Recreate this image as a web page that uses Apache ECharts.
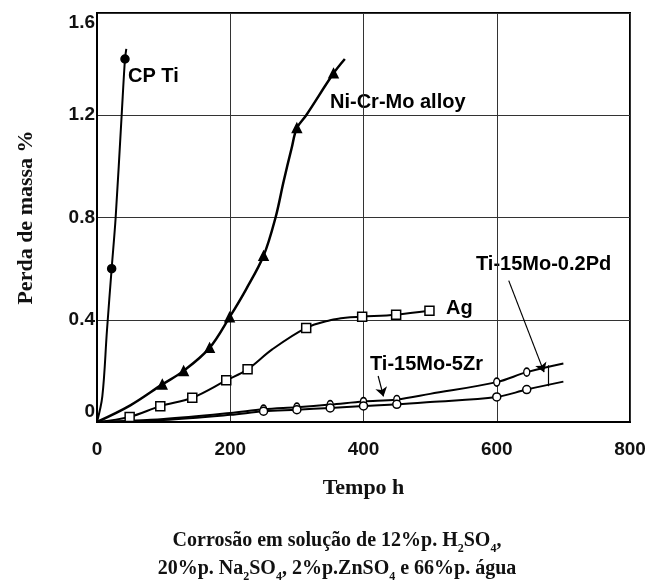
<!DOCTYPE html>
<html>
<head>
<meta charset="utf-8">
<script src="https://cdn.jsdelivr.net/npm/echarts@6/dist/echarts.min.js"></script>
<style>
  html, body { margin: 0; padding: 0; background: #fff; }
  #chart { width: 650px; height: 580px; }
</style>
</head>
<body>
<div id="chart"></div>
<script>
  // [hours, mass loss %]
  var cpTi = [[0, 0], [8, 0.1], [15, 0.36], [22, 0.6], [28, 0.8], [37, 1.2], [42, 1.42], [44, 1.46]];
  var cpTiMarks = [22, 42];

  var niCrMo = [[0, 0], [50, 0.065], [98, 0.147], [130, 0.2], [169, 0.29], [199, 0.41], [224, 0.52],
    [250, 0.65], [268, 0.8], [280, 0.94], [292, 1.07], [300, 1.15], [314, 1.2], [355, 1.364], [372, 1.42]];
  var niCrMoMarks = [98, 130, 169, 199, 250, 300, 355];

  var ag = [[0, 0], [49, 0.02], [95, 0.062], [143, 0.095], [194, 0.163], [226, 0.206], [263, 0.284],
    [314, 0.368], [350, 0.398], [373, 0.408], [398, 0.412], [449, 0.42], [499, 0.435]];
  var agMarks = [49, 95, 143, 194, 226, 314, 398, 449, 499];

  var tiPd = [[0, 0], [100, 0.012], [200, 0.035], [250, 0.05], [300, 0.058], [350, 0.068], [400, 0.08],
    [450, 0.088], [500, 0.11], [600, 0.156], [645, 0.195], [700, 0.229]];
  var tiZr = [[0, 0], [100, 0.008], [200, 0.028], [250, 0.042], [300, 0.048], [350, 0.055], [400, 0.063],
    [450, 0.069], [500, 0.078], [600, 0.098], [645, 0.127], [700, 0.158]];
  var tiMarks = [250, 300, 350, 400, 450, 600, 645];

  var xTicks = { min: 0, max: 800, step: 200 };
  var yTicks = { min: 0, max: 1.6, step: 0.4 };

  var sans = '"Liberation Sans", Arial, sans-serif';
  var serif = '"Liberation Serif", "Times New Roman", serif';

  // only the measured points get a marker
  function withMarks(points, marks) {
    return points.map(function (p) {
      return marks.indexOf(p[0]) >= 0 ? { value: p } : { value: p, symbol: 'none' };
    });
  }

  function curve(name, points, marks, symbol, size, fill, width) {
    return {
      name: name,
      type: 'line',
      smooth: 0.35,
      symbol: symbol,
      symbolSize: size,
      showAllSymbol: true,
      lineStyle: { color: '#000', width: width || 2 },
      itemStyle: { color: fill, borderColor: '#000', borderWidth: 1.5 },
      emphasis: { disabled: true },
      data: withMarks(points, marks),
      z: 3
    };
  }

  var chart = echarts.init(document.getElementById('chart'));

  var pdSeries = curve('Ti-15Mo-0.2Pd', tiPd, tiMarks, 'circle', [6, 8], '#fff');
  pdSeries.markLine = {
    silent: true,
    symbol: ['none', 'arrow'],
    symbolSize: 9,
    label: { show: false },
    lineStyle: { color: '#000', width: 1.2, type: 'solid' },
    data: [
      [{ coord: [618, 0.553] }, { coord: [671, 0.195] }],
      [{ coord: [422, 0.18] }, { coord: [430, 0.1] }],
      [{ coord: [677, 0.14], symbol: 'none' }, { coord: [677, 0.222], symbol: 'none' }]
    ]
  };

  var option = {
    backgroundColor: '#fff',
    animation: false,
    grid: {
      left: 97, right: 20, top: 13, bottom: 158,
      show: true, borderColor: '#000', borderWidth: 2
    },
    title: {
      left: 332,
      top: 522,
      textAlign: 'center',
      text: '{n|Corrosão em solução de 12%p. H}{s|2}{n|SO}{s|4}{n|,}\n' +
        '{n|20%p. Na}{s|2}{n|SO}{s|4}{n|, 2%p.ZnSO}{s|4}{n| e 66%p. água}',
      textStyle: {
        rich: {
          n: { fontFamily: serif, fontWeight: 'bold', fontSize: 20, lineHeight: 28, color: '#111' },
          s: { fontFamily: serif, fontWeight: 'bold', fontSize: 12, lineHeight: 25, verticalAlign: 'bottom', color: '#111' }
        }
      }
    },
    xAxis: {
      type: 'value',
      min: xTicks.min, max: xTicks.max, interval: xTicks.step,
      name: 'Tempo h',
      nameLocation: 'middle',
      nameGap: 55,
      nameTextStyle: { fontFamily: serif, fontWeight: 'bold', fontSize: 22, color: '#111' },
      axisLine: { lineStyle: { color: '#000', width: 2 } },
      axisTick: { show: false },
      axisLabel: { margin: 18, fontFamily: sans, fontWeight: 'bold', fontSize: 19, color: '#111' },
      splitLine: { lineStyle: { color: '#333', width: 1 } }
    },
    yAxis: {
      type: 'value',
      min: yTicks.min, max: yTicks.max, interval: yTicks.step,
      name: 'Perda de massa %',
      nameLocation: 'middle',
      nameGap: 60,
      nameTextStyle: { fontFamily: serif, fontWeight: 'bold', fontSize: 22, color: '#111' },
      axisLine: { lineStyle: { color: '#000', width: 2 } },
      axisTick: { show: false },
      axisLabel: {
        margin: 2,
        fontFamily: sans, fontWeight: 'bold', fontSize: 19, color: '#111',
        formatter: function (v) {
          if (Math.abs(v - yTicks.min) < 1e-6) return '{lo|0}';
          if (Math.abs(v - yTicks.max) < 1e-6) return '{hi|' + v.toFixed(1) + '}';
          return v.toFixed(1);
        },
        rich: {
          lo: { fontFamily: sans, fontWeight: 'bold', fontSize: 19, color: '#111', padding: [0, 0, 20, 0] },
          hi: { fontFamily: sans, fontWeight: 'bold', fontSize: 19, color: '#111', padding: [20, 0, 0, 0] }
        }
      },
      splitLine: { lineStyle: { color: '#333', width: 1 } }
    },
    graphic: [
      { type: 'text', x: 128, y: 76, style: { text: 'CP Ti', font: 'bold 20px ' + sans, fill: '#000', verticalAlign: 'middle' } },
      { type: 'text', x: 330, y: 102, style: { text: 'Ni-Cr-Mo alloy', font: 'bold 20px ' + sans, fill: '#000', verticalAlign: 'middle' } },
      { type: 'text', x: 446, y: 308, style: { text: 'Ag', font: 'bold 20px ' + sans, fill: '#000', verticalAlign: 'middle' } },
      { type: 'text', x: 476, y: 264, style: { text: 'Ti-15Mo-0.2Pd', font: 'bold 20px ' + sans, fill: '#000', verticalAlign: 'middle' } },
      { type: 'text', x: 370, y: 364, style: { text: 'Ti-15Mo-5Zr', font: 'bold 20px ' + sans, fill: '#000', verticalAlign: 'middle' } }
    ],
    series: [
      curve('CP Ti', cpTi, cpTiMarks, 'circle', 8, '#000'),
      curve('Ni-Cr-Mo alloy', niCrMo, niCrMoMarks, 'triangle', 9, '#000', 2.5),
      curve('Ag', ag, agMarks, 'rect', 9, '#fff'),
      pdSeries,
      curve('Ti-15Mo-5Zr', tiZr, tiMarks, 'circle', 8, '#fff')
    ]
  };

  chart.setOption(option);
</script>
</body>
</html>
